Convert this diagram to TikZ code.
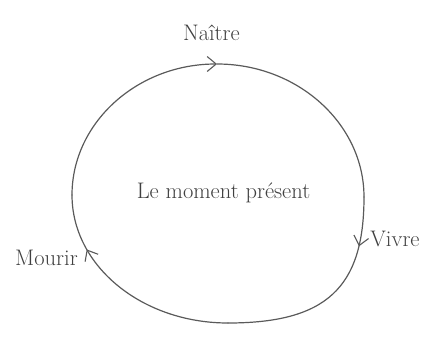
\documentclass[tikz,border=0pt]{standalone}
\usepackage{fontspec}
\usetikzlibrary{arrows.meta,decorations.markings}
\definecolor{linec}{HTML}{5A5A5A}
\definecolor{textc}{HTML}{404040}
\tikzset{barb/.tip={Straight Barb[length=9pt,width=15pt,line width=1.1pt]}}
\begin{document}
\begin{tikzpicture}[x=1pt,y=-1pt,
  lbl/.style={anchor=base,text=textc,font=\fontsize{22.5}{27}\selectfont,inner sep=0pt},
  curve/.style={draw=linec,line width=1.2pt,line cap=round},
  midarrow/.style={decoration={markings,mark=at position #1 with {\arrow{barb}}},postaction={decorate}}]
\useasboundingbox (0,0) rectangle (421,343);
\node[lbl] (naitre) at (211.5,40) {Naître};
\node[lbl] (moment) at (223.5,198) {Le moment présent};
\node[lbl] (mourir) at (46.5,265) {Mourir};
\node[lbl] (vivre) at (395,246) {Vivre};
\coordinate (T) at (217,64);
\coordinate (R) at (364,197);
\coordinate (B) at (228,323);
\coordinate (L) at (72,195);
\draw[curve,-barb] (L) .. controls (72,123) and (137,64) .. (T);
\draw[curve] (T) .. controls (298,64) and (364,124) .. (R);
\draw[curve,midarrow=0.23] (R) .. controls (364,288) and (326,323) .. (B);
\draw[curve,midarrow=0.745] (B) .. controls (142,323) and (72,266) .. (L);
\end{tikzpicture}
\end{document}
